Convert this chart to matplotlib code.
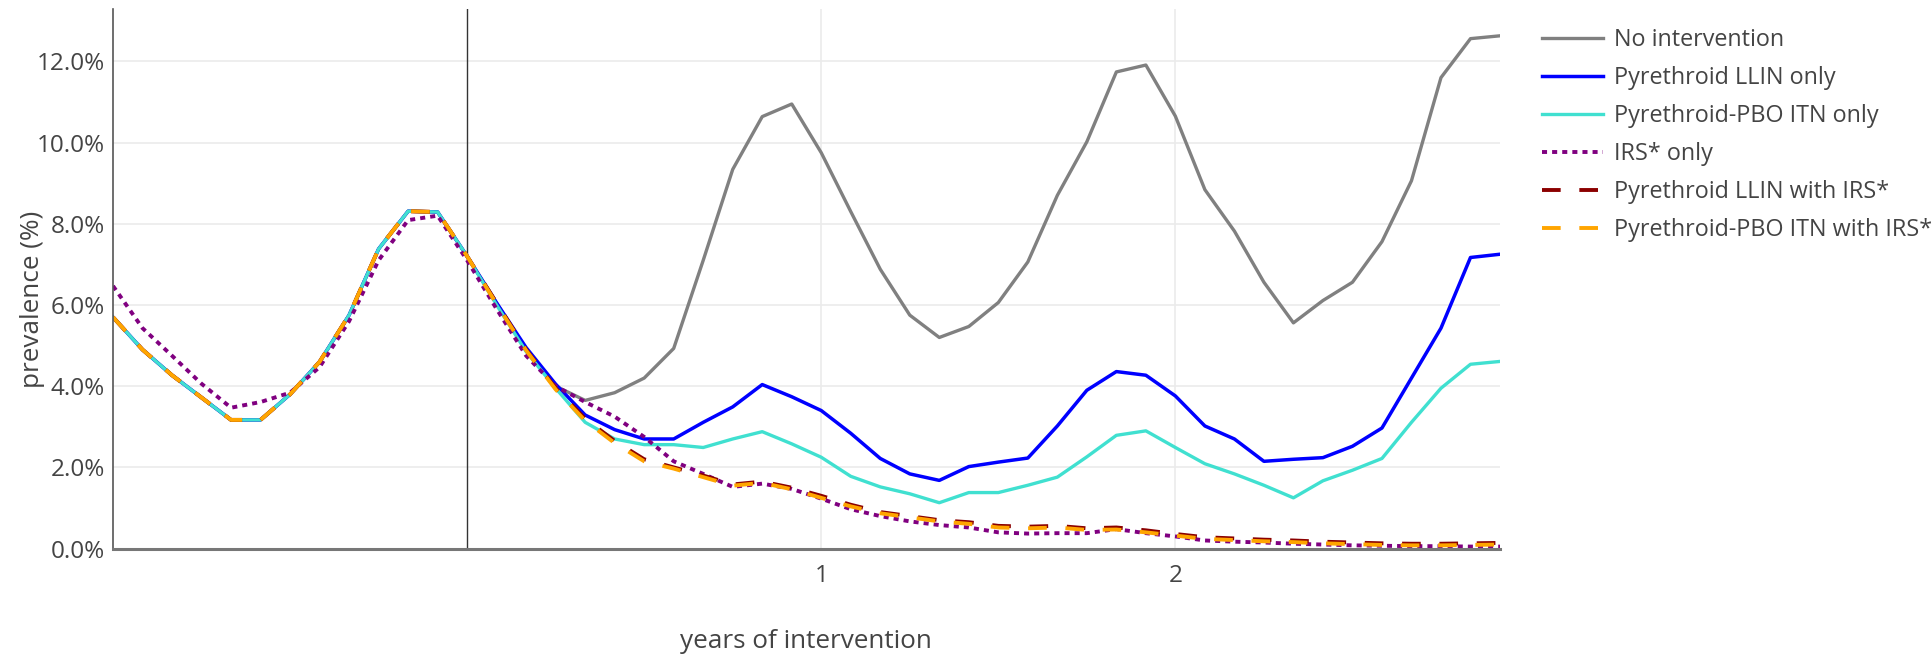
import numpy as np
import matplotlib
matplotlib.use("Agg")
import matplotlib.pyplot as plt
from matplotlib.ticker import FuncFormatter

plt.rcParams['font.family'] = ['Open Sans', 'DejaVu Sans']

# months relative to start of intervention (-12 .. 35)
months = list(range(-12, 36))

# pre-intervention seasonal curve shared by most scenarios
baseline_pre = [5.70, 4.90, 4.27, 3.72, 3.17, 3.17, 3.80, 4.60, 5.75, 7.38, 8.31, 8.29, 7.20]

no_intervention = baseline_pre + [
    6.05, 4.90, 4.00, 3.65, 3.84, 4.20, 4.93, 7.10, 9.34, 10.64, 10.95, 9.75,
    8.30, 6.88, 5.75, 5.20, 5.47, 6.06, 7.06, 8.70, 10.02, 11.74, 11.91, 10.65,
    8.84, 7.82, 6.56, 5.56, 6.11, 6.56, 7.56, 9.06, 11.60, 12.56, 12.63]

llin_only = baseline_pre + [
    6.05, 4.95, 4.05, 3.29, 2.93, 2.70, 2.70, 3.11, 3.49, 4.04, 3.74, 3.40,
    2.84, 2.22, 1.84, 1.68, 2.02, 2.13, 2.23, 3.02, 3.90, 4.36, 4.27, 3.76,
    3.02, 2.70, 2.15, 2.20, 2.24, 2.52, 2.97, 4.20, 5.43, 7.17, 7.25]

pbo_only = baseline_pre + [
    6.00, 4.85, 3.95, 3.11, 2.70, 2.56, 2.56, 2.49, 2.70, 2.88, 2.58, 2.25,
    1.78, 1.52, 1.35, 1.13, 1.38, 1.38, 1.56, 1.76, 2.26, 2.79, 2.90, 2.49,
    2.09, 1.84, 1.56, 1.25, 1.67, 1.93, 2.22, 3.11, 3.95, 4.54, 4.61]

irs_only = [6.47, 5.43, 4.75, 4.06, 3.47, 3.61, 3.84, 4.47, 5.60, 7.10, 8.09, 8.20, 7.10,
    5.90, 4.75, 4.00, 3.61, 3.25, 2.75, 2.15, 1.84, 1.52, 1.60, 1.47, 1.23,
    0.97, 0.80, 0.67, 0.58, 0.52, 0.40, 0.37, 0.38, 0.38, 0.48, 0.38, 0.30,
    0.20, 0.17, 0.15, 0.12, 0.10, 0.08, 0.07, 0.06, 0.06, 0.05, 0.05]

llin_irs = baseline_pre + [
    6.05, 4.90, 3.95, 3.20, 2.65, 2.20, 2.00, 1.80, 1.58, 1.65, 1.50, 1.30,
    1.08, 0.90, 0.80, 0.70, 0.65, 0.56, 0.54, 0.56, 0.50, 0.52, 0.45, 0.36,
    0.28, 0.25, 0.22, 0.20, 0.17, 0.15, 0.13, 0.12, 0.12, 0.13, 0.14]

pbo_irs = baseline_pre + [
    6.02, 4.88, 3.92, 3.15, 2.60, 2.15, 1.97, 1.76, 1.55, 1.62, 1.46, 1.25,
    1.04, 0.87, 0.77, 0.67, 0.61, 0.52, 0.50, 0.52, 0.46, 0.47, 0.40, 0.32,
    0.24, 0.21, 0.18, 0.16, 0.13, 0.11, 0.09, 0.08, 0.08, 0.09, 0.10]

labels = ["No intervention", "Pyrethroid LLIN only", "Pyrethroid-PBO ITN only",
          "IRS* only", "Pyrethroid LLIN with IRS*", "Pyrethroid-PBO ITN with IRS*"]
colors = ["grey", "blue", "turquoise", "purple", "darkred", "orange"]

years = np.array(months) / 12.0
series = [no_intervention, llin_only, pbo_only, irs_only, llin_irs, pbo_irs]

fig = plt.figure(figsize=(19.33, 6.6), dpi=100)
ax = fig.add_axes([113 / 1933, 1 - 548.6 / 660, (1500 - 113) / 1933, (548.6 - 8.6) / 660])

styles = [dict(ls="-", lw=2.4), dict(ls="-", lw=2.5), dict(ls="-", lw=2.4),
          dict(ls=(0, (1.3, 1.3)), lw=2.8), dict(ls=(0, (4.8, 4.8)), lw=2.8),
          dict(ls=(0, (4.8, 4.8)), lw=2.8)]

for vals, lab, col, st in zip(series, labels, colors, styles):
    ax.plot(years, vals, color=col, label=lab, **st)

ax.axvline(0, color="#333333", lw=1.0, zorder=1)

ax.set_xlim(-1, 35 / 12)
ax.set_ylim(0, 13.3)
ax.set_xticks([1, 2])
ax.set_yticks([0, 2, 4, 6, 8, 10, 12])
ax.yaxis.set_major_formatter(FuncFormatter(lambda v, p: f"{v:.1f}%"))
ax.grid(True, color="#ebebeb", lw=1.2, zorder=0)
ax.set_axisbelow(True)
ax.tick_params(length=0, labelsize=17.5, colors="#444444")
ax.tick_params(axis="x", pad=11)
ax.tick_params(axis="y", pad=6)

for s in ["top", "right"]:
    ax.spines[s].set_visible(False)
ax.spines["left"].set_color("#555555")
ax.spines["left"].set_linewidth(1.2)
ax.spines["bottom"].set_color("#777777")
ax.spines["bottom"].set_linewidth(2.2)

fig.text(806 / 1933, 1 - 642 / 660, "years of intervention", ha="center", va="center",
         fontsize=18.8, color="#444444")
fig.text(33 / 1933, 1 - 299 / 660, "prevalence (%)", ha="center", va="center",
         rotation=90, fontsize=18.8, color="#444444")

ax.legend(loc="upper left", bbox_to_anchor=(1521 / 1933, 1 - 7 / 660),
          bbox_transform=fig.transFigure, frameon=False, fontsize=16.8,
          handlelength=2.6, handletextpad=0.5, labelspacing=0.6,
          labelcolor="#444444")

fig.savefig("out.png", dpi=100)
